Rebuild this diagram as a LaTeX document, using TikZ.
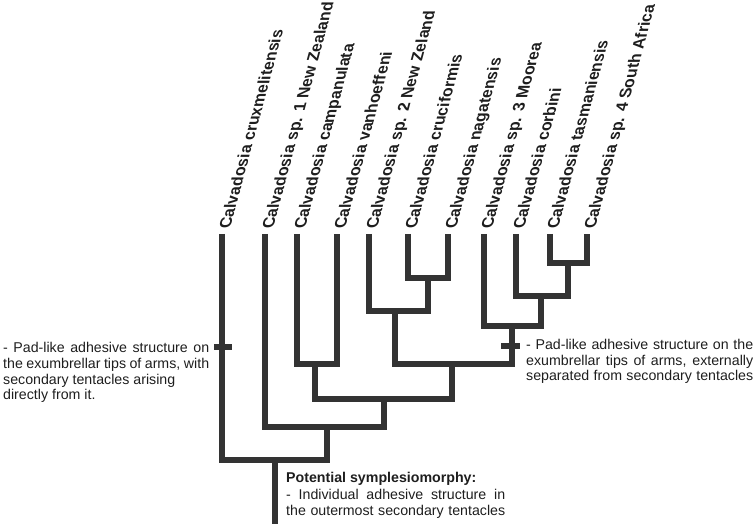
\documentclass[tikz,border=0pt]{standalone}
\usepackage{fontspec}
\setmainfont{Liberation Sans}
\definecolor{ln}{HTML}{333333}
\definecolor{tx}{HTML}{1E1E1E}
\tikzset{
  branch/.style={line width=6pt, draw=ln, line join=miter, line cap=butt},
  marker/.style={line width=5.5pt, draw=ln, line cap=butt},
  note/.style={anchor=base west, inner sep=0pt, text=tx, font=\fontsize{14.2}{16}\selectfont},
  notebold/.style={note, font=\fontsize{14.2}{16}\selectfont\bfseries},
  taxon/.style={anchor=base west, inner sep=0pt, text=tx, transform shape, font=\fontsize{16.4}{18}\selectfont\bfseries},
}
\newcommand\mytaxon[3]{%
  \begin{scope}[shift={(#2+8,295)}, cm={0.259,0.966,-1,0,(0,0)}]
    \node[taxon] (#1) at (0,0) {#3};
  \end{scope}}
\begin{document}
\begin{tikzpicture}[x=1pt,y=1pt]
\useasboundingbox (0,0) rectangle (755,524);
% tips
\coordinate (t1) at (222,290);
\coordinate (t2) at (265,290);
\coordinate (t3) at (297,290);
\coordinate (t4) at (337,290);
\coordinate (t5) at (369,290);
\coordinate (t6) at (408,290);
\coordinate (t7) at (448,290);
\coordinate (t8) at (484,290);
\coordinate (t9) at (516,290);
\coordinate (t10) at (550,290);
\coordinate (t11) at (587,290);
% internal nodes
\coordinate (nA) at (428,246);
\coordinate (nB) at (568,261);
\coordinate (nC) at (541,228);
\coordinate (nD) at (512,198);
\coordinate (nE) at (395,213);
\coordinate (nF) at (452,160);
\coordinate (nG) at (315,160);
\coordinate (nH) at (384,125);
\coordinate (nI) at (327,97);
\coordinate (nJ) at (275,64);
\coordinate (root) at (275,0);
% branches
\draw[branch] (t6) |- (nA) -| (t7);
\draw[branch] (t10) |- (nB) -| (t11);
\draw[branch] (t9) |- (nC) -| (nB);
\draw[branch] (t8) |- (nD) -| (nC);
\draw[branch] (t5) |- (nE) -| (nA);
\draw[branch] (nE) |- (nF) -| (nD);
\draw[branch] (t3) |- (nG) -| (t4);
\draw[branch] (nG) |- (nH) -| (nF);
\draw[branch] (t2) |- (nI) -| (nH);
\draw[branch] (t1) |- (nJ) -| (nI);
\draw[branch] (nJ) -- (root);
% character marks
\coordinate (m1a) at (214,177);
\coordinate (m1b) at (232,177);
\coordinate (m2a) at (501,178);
\coordinate (m2b) at (520,178);
\draw[marker] (m1a) -- (m1b);
\draw[marker] (m2a) -- (m2b);
% taxon labels
\mytaxon{L1}{222}{Calvadosia cruxmelitensis}
\mytaxon{L2}{265}{Calvadosia sp. 1 New Zealand}
\mytaxon{L3}{297}{Calvadosia campanulata}
\mytaxon{L4}{337}{Calvadosia vanhoeffeni}
\mytaxon{L5}{369}{Calvadosia sp. 2 New Zeland}
\mytaxon{L6}{408}{Calvadosia cruciformis}
\mytaxon{L7}{448}{Calvadosia nagatensis}
\mytaxon{L8}{484}{Calvadosia sp. 3 Moorea}
\mytaxon{L9}{516}{Calvadosia corbini}
\mytaxon{L10}{550}{Calvadosia tasmaniensis}
\mytaxon{L11}{587}{Calvadosia sp. 4 South Africa}
% left note
\node[note] (lt1) at (3,171) {\makebox[206pt][s]{- Pad-like adhesive structure on}};
\node[note] (lt2) at (3,155.3) {\makebox[206pt][s]{the exumbrellar tips of arms, with}};
\node[note] (lt3) at (3,139.6) {secondary tentacles arising};
\node[note] (lt4) at (3,124) {directly from it.};
% right note
\node[note] (rt1) at (526,174.7) {\makebox[227pt][s]{- Pad-like adhesive structure on the}};
\node[note] (rt2) at (526,158.7) {\makebox[227pt][s]{exumbrellar tips of arms, externally}};
\node[note] (rt3) at (526,143) {\makebox[227pt][s]{separated from secondary tentacles}};
% bottom note
\node[notebold] (bt1) at (286,41) {Potential symplesiomorphy:};
\node[note] (bt2) at (286,24.5) {\makebox[219pt][s]{- Individual adhesive structure in}};
\node[note] (bt3) at (286,8) {\makebox[219pt][s]{the outermost secondary tentacles}};
\end{tikzpicture}
\end{document}
